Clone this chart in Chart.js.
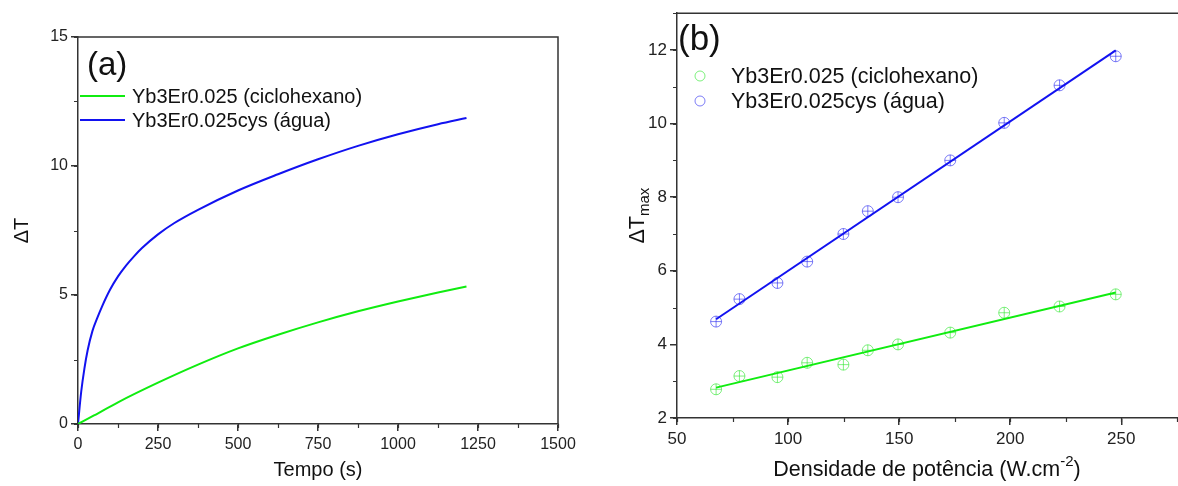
<!DOCTYPE html>
<html>
<head>
<meta charset="utf-8">
<script src="https://cdn.jsdelivr.net/npm/chart.js@4.4.3/dist/chart.umd.min.js"></script>
<style>
  html, body { margin: 0; padding: 0; background: #fff; overflow: hidden; }
  #wrapA { position: absolute; left: 0; top: 0; width: 590px; height: 486px; }
  #wrapB { position: absolute; left: 590px; top: 0; width: 600px; height: 486px; }
</style>
</head>
<body>
<div id="wrapA"><canvas id="chartA" width="590" height="486"></canvas></div>
<div id="wrapB"><canvas id="chartB" width="600" height="486"></canvas></div>
<script>
// ---- panel (a) : temperature rise vs time ----
const labelGreen = "Yb3Er0.025 (ciclohexano)";
const labelBlue = "Yb3Er0.025cys (água)";
const timeGreen = [0, 50, 125, 250, 375, 500, 625, 750, 875, 1000, 1125, 1214];
const dtGreen = [0, 0.33, 0.84, 1.6, 2.3, 2.93, 3.46, 3.94, 4.37, 4.75, 5.1, 5.33];
const timeBlue = [0, 10, 20, 30, 45, 60, 75, 100, 125, 150, 175, 200, 250, 300, 375, 500, 625, 750, 875, 1000, 1125, 1214];
const dtBlue = [0, 1.25, 2.15, 2.85, 3.6, 4.1, 4.55, 5.2, 5.72, 6.14, 6.5, 6.82, 7.35, 7.78, 8.3, 9.05, 9.68, 10.26, 10.78, 11.23, 11.62, 11.86];
const xTicksA = [0, 250, 500, 750, 1000, 1250, 1500];
const yTicksA = [0, 5, 10, 15];

// ---- panel (b) : max temperature rise vs power density ----
const powerDensity = [67.6, 78.1, 95.2, 108.6, 124.9, 135.9, 149.5, 173.0, 197.3, 222.2, 247.5];
const dtMaxGreen = [2.78, 3.14, 3.11, 3.50, 3.45, 3.84, 4.00, 4.32, 4.86, 5.03, 5.36];
const dtMaxBlue = [4.62, 5.23, 5.67, 6.25, 7.00, 7.62, 8.00, 9.00, 10.02, 11.04, 11.83];
const xTicksB = [50, 100, 150, 200, 250];
const yTicksB = [2, 4, 6, 8, 10, 12];

const GREEN = '#10ec10';
const BLUE = '#1212f0';
const GREEN_PT = 'rgba(40,230,40,0.6)';
const BLUE_PT = 'rgba(40,40,240,0.6)';
const AXIS = '#333';
const FONT = "'Liberation Sans', Arial, sans-serif";

function pts(xs, ys) { return xs.map((x, i) => ({ x: x, y: ys[i] })); }

// least squares fit line drawn over the data range
function fitLine(xs, ys) {
  const n = xs.length;
  const mx = xs.reduce((a, b) => a + b, 0) / n;
  const my = ys.reduce((a, b) => a + b, 0) / n;
  let sxy = 0, sxx = 0;
  for (let i = 0; i < n; i++) { sxy += (xs[i] - mx) * (ys[i] - my); sxx += (xs[i] - mx) ** 2; }
  const k = sxy / sxx, b = my - k * mx;
  const x0 = Math.min(...xs), x1 = Math.max(...xs);
  return [{ x: x0, y: k * x0 + b }, { x: x1, y: k * x1 + b }];
}

// draws box lines, minor ticks, axis titles, legend and panel letter
const decor = {
  id: 'decor',
  afterDraw(chart, args, o) {
    const ctx = chart.ctx, a = chart.chartArea;
    const big = o.font + 'px ' + FONT, small = Math.round(o.font * 0.68) + 'px ' + FONT;
    ctx.save();
    ctx.strokeStyle = AXIS; ctx.lineWidth = 1.5;
    ctx.beginPath();
    ctx.moveTo(a.left, a.top); ctx.lineTo(a.right, a.top);
    if (o.rightLine) { ctx.lineTo(a.right, a.bottom); }
    ctx.stroke();

    // minor ticks
    const xs = chart.scales.x, ys = chart.scales.y;
    ctx.lineWidth = 1.2;
    ctx.beginPath();
    for (let v = xs.min; v <= xs.max + 1e-9; v += o.minorX) {
      const p = Math.round(xs.getPixelForValue(v)) + 0.5;
      ctx.moveTo(p, a.bottom); ctx.lineTo(p, a.bottom + 4);
    }
    for (let v = ys.min; v <= ys.max + 1e-9; v += o.minorY) {
      const p = Math.round(ys.getPixelForValue(v)) + 0.5;
      ctx.moveTo(a.left, p); ctx.lineTo(a.left - 4, p);
    }
    ctx.stroke();

    ctx.fillStyle = '#111';
    ctx.textBaseline = 'middle';
    ctx.textAlign = 'left';

    // x title (with optional superscript)
    const sup = o.xSup || '', tail = o.xTail || '';
    ctx.font = big;
    const w1 = ctx.measureText(o.xTitle).width;
    const w3 = ctx.measureText(tail).width;
    ctx.font = small;
    const w2 = ctx.measureText(sup).width;
    const xs0 = a.left + o.xTitleDx - (w1 + w2 + w3) / 2;
    ctx.font = big;
    ctx.fillText(o.xTitle, xs0, o.xTitleY);
    if (sup) {
      ctx.font = small;
      ctx.fillText(sup, xs0 + w1, o.xTitleY - 8);
      ctx.font = big;
      ctx.fillText(tail, xs0 + w1 + w2, o.xTitleY);
    }

    // y title (with optional subscript)
    ctx.save();
    ctx.translate(o.yTitleX, (a.top + a.bottom) / 2);
    ctx.rotate(-Math.PI / 2);
    ctx.font = big;
    const m1 = ctx.measureText(o.yTitle).width;
    ctx.font = small;
    const m2 = o.ySub ? ctx.measureText(o.ySub).width : 0;
    const s0 = -(m1 + m2) / 2;
    ctx.font = big;
    ctx.fillText(o.yTitle, s0, 0);
    if (o.ySub) {
      ctx.font = small;
      ctx.fillText(o.ySub, s0 + m1, 7);
    }
    ctx.restore();

    // panel letter
    ctx.font = o.letterSize + 'px ' + FONT;
    ctx.fillText(o.letter, o.letterX, o.letterY);

    // legend
    ctx.font = big;
    o.legend.forEach((it, i) => {
      const y = o.legY + i * o.legGap;
      if (it.kind === 'line') {
        ctx.strokeStyle = it.color; ctx.lineWidth = 2;
        ctx.beginPath(); ctx.moveTo(o.legX, y); ctx.lineTo(o.legX + 45, y); ctx.stroke();
        ctx.fillText(it.text, o.legX + 52, y + 1);
      } else {
        ctx.strokeStyle = it.color; ctx.lineWidth = 1;
        ctx.beginPath(); ctx.arc(o.legX, y, 5, 0, Math.PI * 2); ctx.stroke();
        ctx.fillText(it.text, o.legX + 31, y + 1);
      }
    });
    ctx.restore();
  }
};

function axis(min, max, tickVals, fixed, isX, size) {
  return {
    type: 'linear',
    min: min, max: max,
    afterBuildTicks: s => { s.ticks = tickVals.map(v => ({ value: v })); },
    afterFit: s => { if (isX) s.height = fixed; else s.width = fixed; },
    border: { display: true, color: AXIS, width: 1.5 },
    grid: { drawOnChartArea: false, drawTicks: true, tickLength: 7, color: AXIS, lineWidth: 1.5 },
    ticks: { color: '#222', font: { family: FONT, size: size }, padding: isX ? 4 : 3, maxRotation: 0,
             callback: v => String(v) }
  };
}

Chart.defaults.animation = false;

new Chart(document.getElementById('chartA'), {
  type: 'scatter',
  data: {
    datasets: [
      { label: labelGreen, data: pts(timeGreen, dtGreen), showLine: true, borderColor: GREEN,
        borderWidth: 2, pointRadius: 0, cubicInterpolationMode: 'monotone' },
      { label: labelBlue, data: pts(timeBlue, dtBlue), showLine: true, borderColor: BLUE,
        borderWidth: 2, pointRadius: 0, cubicInterpolationMode: 'monotone' }
    ]
  },
  options: {
    responsive: false,
    layout: { padding: { top: 37, right: 32, left: 0, bottom: 0 } },
    scales: {
      x: axis(0, 1500, xTicksA, 62, true, 16),
      y: axis(0, 15, yTicksA, 78, false, 16)
    },
    plugins: {
      legend: { display: false }, tooltip: { enabled: false },
      decor: {
        font: 20, rightLine: true, minorX: 125, minorY: 2.5,
        xTitle: 'Tempo (s)', xTitleDx: 240, xTitleY: 470,
        yTitle: '\u0394T', yTitleX: 22,
        letter: '(a)', letterSize: 33, letterX: 87, letterY: 66,
        legX: 80, legY: 96, legGap: 24,
        legend: [{ kind: 'line', color: GREEN, text: labelGreen }, { kind: 'line', color: BLUE, text: labelBlue }]
      }
    }
  },
  plugins: [decor]
});

new Chart(document.getElementById('chartB'), {
  type: 'scatter',
  data: {
    datasets: [
      { data: fitLine(powerDensity, dtMaxGreen), showLine: true, borderColor: GREEN, borderWidth: 2, pointRadius: 0 },
      { data: fitLine(powerDensity, dtMaxBlue), showLine: true, borderColor: BLUE, borderWidth: 2, pointRadius: 0 },
      { data: pts(powerDensity, dtMaxGreen), pointStyle: 'circle', pointRadius: 5.5, borderColor: GREEN_PT,
        backgroundColor: 'rgba(0,0,0,0)', borderWidth: 1 },
      { data: pts(powerDensity, dtMaxGreen), pointStyle: 'cross', pointRadius: 5.5, borderColor: GREEN_PT, borderWidth: 1 },
      { data: pts(powerDensity, dtMaxBlue), pointStyle: 'circle', pointRadius: 5.5, borderColor: BLUE_PT,
        backgroundColor: 'rgba(0,0,0,0)', borderWidth: 1 },
      { data: pts(powerDensity, dtMaxBlue), pointStyle: 'cross', pointRadius: 5.5, borderColor: BLUE_PT, borderWidth: 1 }
    ]
  },
  options: {
    responsive: false,
    layout: { padding: { top: 13, right: 0, left: 0, bottom: 0 } },
    scales: {
      x: axis(50, 278, xTicksB, 68, true, 17),
      y: axis(2, 13, yTicksB, 87, false, 17)
    },
    plugins: {
      legend: { display: false }, tooltip: { enabled: false },
      decor: {
        font: 21.5, rightLine: false, minorX: 25, minorY: 1,
        xTitle: 'Densidade de pot\u00eancia (W.cm', xSup: '-2', xTail: ')', xTitleDx: 250, xTitleY: 470,
        yTitle: '\u0394T', ySub: 'max', yTitleX: 48,
        letter: '(b)', letterSize: 35, letterX: 88, letterY: 40,
        legX: 110, legY: 76, legGap: 25,
        legend: [{ kind: 'circle', color: GREEN_PT, text: labelGreen }, { kind: 'circle', color: BLUE_PT, text: labelBlue }]
      }
    }
  },
  plugins: [decor]
});
</script>
</body>
</html>
